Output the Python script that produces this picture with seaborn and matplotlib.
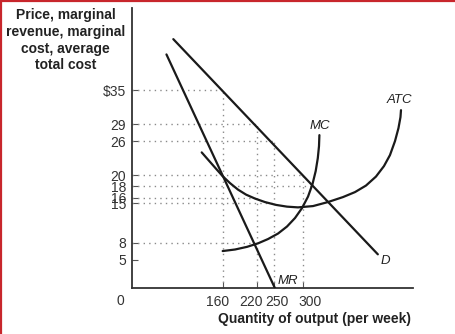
import matplotlib
matplotlib.use("Agg")
import matplotlib.pyplot as plt
import matplotlib.transforms as mtransforms
import seaborn as sns
import pandas as pd
from matplotlib.lines import Line2D

# ---- data ----
demand_q = [73, 431]
demand_p = [44.0, 6.0]

mr_q = [61, 251]
mr_p = [41.3, 0.0]

mc_q = [159.4, 181.0, 202.0, 221.3, 238.8, 256.3, 272.0, 286.0, 298.3, 308.8,
        316.6, 322.2, 325.9, 328.0, 328.7]
mc_p = [6.58, 6.85, 7.32, 7.94, 8.70, 9.67, 10.91, 12.41, 14.17, 16.20,
        18.40, 20.70, 22.99, 25.11, 27.05]

atc_q = [122.7, 133.7, 146.0, 158.7, 172.2, 186.2, 200.2, 215.9, 233.4, 252.7,
         272.0, 291.2, 317.5, 343.7, 370.0, 391.0, 410.2, 427.7, 441.7, 452.2,
         461.0, 467.1, 470.6, 471.5]
atc_p = [24.0, 22.73, 21.32, 19.87, 18.58, 17.43, 16.55, 15.85, 15.23, 14.73,
         14.42, 14.29, 14.52, 15.23, 16.11, 16.99, 18.14, 19.73, 21.58, 23.52,
         25.99, 28.29, 30.23, 31.46]

# dotted guide lines
hguide_p = [35, 29, 26, 20, 18, 16, 15, 8]
hguide_q = [160, 220, 250, 300, 316, 220, 250, 220]
vguide_q = [160, 220, 250, 300]
vguide_p = [35, 29, 26, 20]

ytick_vals = [35, 29, 26, 20, 18, 16, 15, 8, 5]
ytick_labels = ["$35", "29", "26", "20", "18", "16", "15", "8", "5"]
xtick_vals = [160, 220, 250, 300]
xtick_labels = ["160", "220", "250", "300"]

curve_labels = ["ATC", "MC", "D", "MR"]
curve_label_q = [468, 329, 445, 274]
curve_label_p = [33.2, 28.6, 4.8, 1.35]

# ---- style ----
sns.set_theme(style="white")
plt.rcParams["font.family"] = ["Liberation Sans", "DejaVu Sans"]

W, H = 456, 334
fig = plt.figure(figsize=(W / 100, H / 100), dpi=100)
ax = fig.add_axes([131.6 / W, 1 - 288.3 / H, (412.7 - 131.6) / W, (288.3 - 8) / H])
ax.set_xlim(0, 492)
ax.set_ylim(0, 49.5)

line_col = "#1a1a1a"
lw = 1.6
guide_col = "#8a8a8a"

# guides
for q, p in zip(hguide_q, hguide_p):
    ax.plot([0, q], [p, p], color=guide_col, lw=1.0, ls=(0, (1, 3)), zorder=1)
for q, p in zip(vguide_q, vguide_p):
    ax.plot([q, q], [0, p], color=guide_col, lw=1.0, ls=(0, (1, 3)), zorder=1)

curves = {
    "D": (demand_q, demand_p),
    "MR": (mr_q, mr_p),
    "MC": (mc_q, mc_p),
    "ATC": (atc_q, atc_p),
}
for name, (qs, ps) in curves.items():
    df = pd.DataFrame({"q": qs, "p": ps})
    sns.lineplot(data=df, x="q", y="p", ax=ax, color=line_col, lw=lw,
                 sort=False, estimator=None, zorder=3)

for t, q, p in zip(curve_labels, curve_label_q, curve_label_p):
    ax.text(q, p, t, ha="center", va="center", fontsize=9.5, style="italic",
            color="#222222", zorder=4)

# axes styling
for s in ["top", "right"]:
    ax.spines[s].set_visible(False)
for s in ["left", "bottom"]:
    ax.spines[s].set_color("#333333")
    ax.spines[s].set_linewidth(1.3)

ax.set_yticks(ytick_vals)
ax.set_yticklabels(ytick_labels)
ax.set_xticks(xtick_vals)
ax.set_xticklabels(xtick_labels)
ax.tick_params(axis="both", direction="in", length=4, width=0.8, color="#555555",
               labelsize=10, labelcolor="#333333")
ax.tick_params(axis="y", pad=4, left=True)
ax.tick_params(axis="x", pad=5, bottom=True)
ax.set_xlabel("")
ax.set_ylabel("")

# nudge crowded x tick labels apart as in the reference (pixel offsets)
x_label_shift_px = [-5, -6, 2.5, 7]
for lab, dx in zip(ax.get_xticklabels(), x_label_shift_px):
    lab.set_transform(lab.get_transform() +
                      mtransforms.ScaledTranslation(dx / 100, 0, fig.dpi_scale_trans))

ax.annotate("0", xy=(0, 0), xytext=(-7.9, -8.9), textcoords="offset points",
            ha="center", va="center", fontsize=10, color="#333333",
            annotation_clip=False)

fig.text(65.5 / W, 1 - 8.5 / H, "Price, marginal\nrevenue, marginal\ncost, average\ntotal cost",
         ha="center", va="top", fontsize=10, fontweight="bold", color="#222222",
         linespacing=1.24)
fig.text(314 / W, 1 - 319 / H, "Quantity of output (per week)", ha="center", va="center",
         fontsize=10, fontweight="bold", color="#222222")

# red frame edges (top and left)
red = "#c8262c"
fig.add_artist(Line2D([0, 1], [1 - 1 / H, 1 - 1 / H], transform=fig.transFigure, color=red, lw=1.6))
fig.add_artist(Line2D([1 / W, 1 / W], [0, 1], transform=fig.transFigure, color=red, lw=1.6))

fig.savefig("out.png", dpi=100)
